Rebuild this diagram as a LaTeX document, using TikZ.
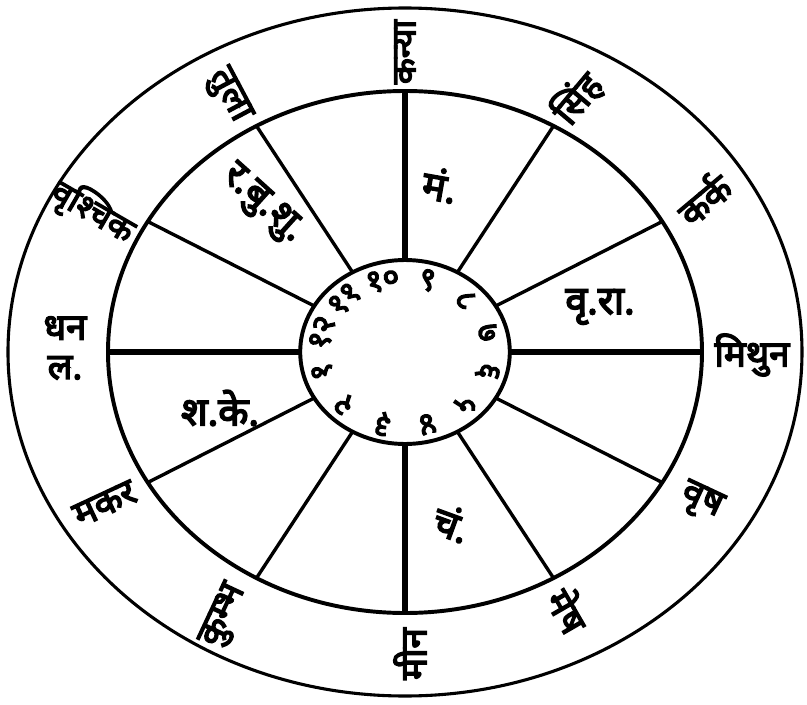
\documentclass[tikz,border=0pt]{standalone}
\usepackage{fontspec}
\newfontfamily\deva[Script=Devanagari, FakeBold=4]{Noto Sans}
\usepackage{tikz}

\begin{document}
\begin{tikzpicture}[
    ring/.style={line width=2.8pt},
    spoke/.style={line width=2.4pt},
    mainspoke/.style={line width=4.6pt},
    rashi/.style={font=\deva\fontsize{26}{28}\selectfont, inner sep=0pt},
    graha/.style={font=\deva\fontsize{28}{30}\selectfont, inner sep=0pt},
    ank/.style={font=\deva\fontsize{23}{25}\selectfont, inner sep=0pt}
]
    \useasboundingbox (-10.125,-8.8) rectangle (10.05,8.8);

    % Rings
    \draw[line width=2.2pt] (0,0) ellipse [x radius=9.925, y radius=8.6];
    \draw[ring] (0,0) ellipse [x radius=7.425, y radius=6.525];
    \draw[ring] (0,0) ellipse [x radius=2.62, y radius=2.3];

    % Spokes between inner and middle ring
    \foreach \t in {0,30,...,330} {
        \coordinate (in\t) at ({2.62*cos(\t)},{2.3*sin(\t)});
        \coordinate (out\t) at ({7.425*cos(\t)},{6.525*sin(\t)});
    }
    \foreach \t in {30,60,120,150,210,240,300,330}
        \draw[spoke] (in\t) -- (out\t);
    \foreach \t in {0,90,180,270}
        \draw[mainspoke] (in\t) -- (out\t);

    % Signs in the outer ring
    \node[rashi] (mithun) at (8.675,-0.075) {मिथुन};
    \node[rashi, rotate=40] (kark) at (7.45,3.85) {कर्क};
    \node[rashi, rotate=50] (simha) at (4.3,6.35) {सिंह};
    \node[rashi, rotate=90, font=\deva\fontsize{24}{26}\selectfont] (kanya) at (0,7.5) {कन्या};
    \node[rashi, rotate=-62] (tula) at (-4.425,6.4) {तुला};
    \node[rashi, rotate=-30, font=\deva\fontsize{24}{26}\selectfont] (vrishchik) at (-7.8,3.5) {वृश्चिक};
    \node[rashi, align=center] (dhan) at (-8.5,0.1) {धन\\ल.};
    \node[rashi, rotate=25] (makar) at (-7.5,-3.8) {मकर};
    \node[rashi, rotate=65] (kumbh) at (-4.5,-6.6) {कुम्भ};
    \node[rashi, rotate=90] (meen) at (0.125,-7.55) {मीन};
    \node[rashi, rotate=-60] (mesh) at (4.1,-6.45) {मेष};
    \node[rashi, rotate=-25] (vrish) at (7.4,-3.75) {वृष};

    % Planets in the houses
    \node[graha, rotate=-10] (mangal) at (0.875,4.175) {मं.};
    \node[graha, rotate=-42] (rabushu) at (-3.575,3.675) {र.बु.शु.};
    \node[graha] (vrira) at (4.875,1.125) {वृ.रा.};
    \node[graha] (shake) at (-4.625,-1.4) {श.के.};
    \node[graha, rotate=-20] (chandra) at (1.175,-4.275) {चं.};

    % House numbers
    \foreach \t/\n in {15/७,45/८,75/९,105/१०,135/११,165/१२,195/१,225/२,255/३,285/४,315/५,345/६}
        \node[ank, rotate=\t-90] (h\t) at ({2.14*cos(\t)},{1.86*sin(\t)}) {\n};
\end{tikzpicture}
\end{document}
